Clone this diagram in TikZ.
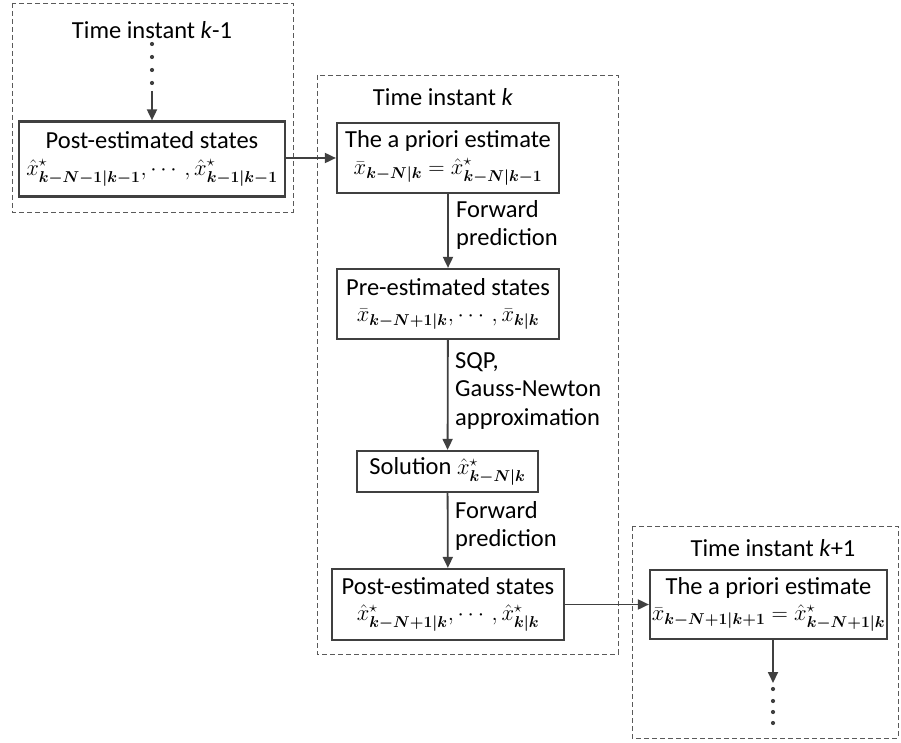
\documentclass[tikz,border=0pt]{standalone}
\usepackage{amsmath}
\usepackage{graphicx}
\usepackage{fontspec}
\setmainfont{Carlito}
\usetikzlibrary{arrows.meta}
\definecolor{lc}{HTML}{404040}
\definecolor{fc}{HTML}{5A5A5A}
\newcommand{\bs}[1]{\boldsymbol{#1}}
\newcommand{\mline}[1]{{\fontsize{22.5}{27}\selectfont\scalebox{1.09}{$#1$}}}
\begin{document}
\begin{tikzpicture}[x=1pt,y=-1pt,
  every node/.style={font=\fontsize{24.5}{28.5}\selectfont, text=black},
  stbox/.style={draw=lc, line width=2.2pt, align=center, inner sep=0pt, fill=white},
  frame/.style={draw=fc, line width=0.9pt, dash pattern=on 5pt off 3pt},
  arr/.style={draw=lc, line width=1.8pt, -{Triangle[length=11pt,width=10pt]}},
  lab/.style={anchor=west, align=left, inner sep=0pt},
  dotc/.style={fill=lc, draw=none, circle, inner sep=0pt, minimum size=4.2pt}
]
\useasboundingbox (0,0) rectangle (901,743);
% frames
\draw[frame] (12,3) rectangle (293,212);
\draw[frame] (317,75) rectangle (618,654);
\draw[frame] (632,526) rectangle (898,738);
% titles
\node (t1) at (152,30) {Time instant \textit{k}-1};
\node (t2) at (443,97) {Time instant \textit{k}};
\node (t3) at (773,548) {Time instant \textit{k}+1};
% boxes
\node[stbox, minimum width=266pt, minimum height=75pt] (b1) at (152,159)
  {Post-estimated states\\[-2pt]\mline{\hat{x}^{\star}_{\bs{k-N-1|k-1}},\cdots,\hat{x}^{\star}_{\bs{k-1|k-1}}}};
\node[stbox, minimum width=222pt, minimum height=70pt] (b2) at (448,158)
  {The a priori estimate\\[-2pt]\mline{\bar{x}_{\bs{k-N|k}}=\hat{x}^{\star}_{\bs{k-N|k-1}}}};
\node[stbox, minimum width=222pt, minimum height=70pt] (b3) at (448,304)
  {Pre-estimated states\\[-2pt]\mline{\bar{x}_{\bs{k-N+1|k}},\cdots,\bar{x}_{\bs{k|k}}}};
\node[stbox, minimum width=181pt, minimum height=41pt] (b4) at (447.5,471.5)
  {Solution \mline{\hat{x}^{\star}_{\bs{k-N|k}}}};
\node[stbox, minimum width=232pt, minimum height=71pt] (b5) at (448,604.5)
  {Post-estimated states\\[-2pt]\mline{\hat{x}^{\star}_{\bs{k-N+1|k}},\cdots,\hat{x}^{\star}_{\bs{k|k}}}};
\node[stbox, minimum width=237pt, minimum height=69pt] (b6) at (768.5,604.5)
  {The a priori estimate\\[-2pt]\mline{\bar{x}_{\bs{k-N+1|k+1}}=\hat{x}^{\star}_{\bs{k-N+1|k}}}};
% dots and free ends
\coordinate (d1) at (152,91);
\coordinate (d2) at (773,683);
\foreach \yy [count=\i] in {44,57,70,83} \node[dotc] (ta\i) at (152,\yy) {};
\foreach \yy [count=\i] in {689,701,712,723} \node[dotc] (tb\i) at (773,\yy) {};
% connectors
\draw[arr] (d1) -- (b1.north);
\draw[arr] (b1.east |- b2.west) -- (b2.west);
\draw[arr] (b2) -- (b3);
\draw[arr] (b3) -- (b4);
\draw[arr] (b4) -- (b5);
\draw[arr] (b5.east) -- (b6.west);
\draw[arr] (b6.south -| d2) -- (d2);
% labels
\node[lab] (l1) at (456,225) {Forward\\prediction};
\node[lab] (l2) at (455,391) {SQP,\\Gauss-Newton\\approximation};
\node[lab] (l3) at (455,526) {Forward\\prediction};
\end{tikzpicture}
\end{document}
